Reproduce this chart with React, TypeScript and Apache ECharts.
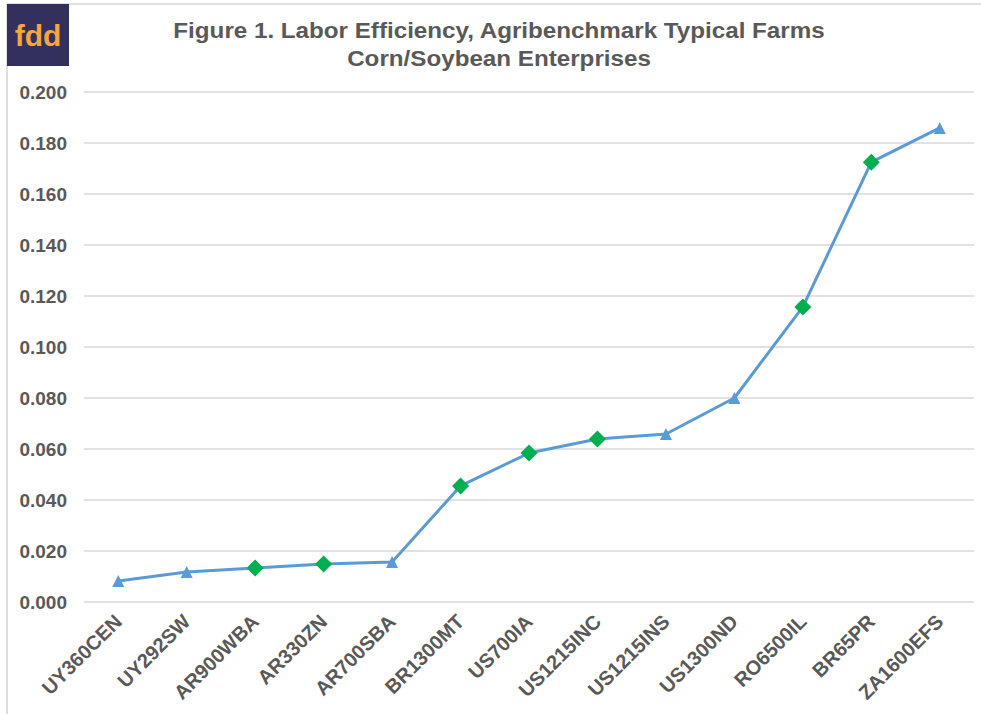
import React, { useEffect, useRef } from "react";
import * as echarts from "echarts";

const titleLines = [
  "Figure 1. Labor Efficiency, Agribenchmark Typical Farms",
  "Corn/Soybean Enterprises",
];
const farms = [
  "UY360CEN", "UY292SW", "AR900WBA", "AR330ZN", "AR700SBA", "BR1300MT", "US700IA",
  "US1215INC", "US1215INS", "US1300ND", "RO6500IL", "BR65PR", "ZA1600EFS",
];
const efficiency = [
  0.0082, 0.0118, 0.0133, 0.0149, 0.0157, 0.0455, 0.0584,
  0.0639, 0.0659, 0.080, 0.1157, 0.1725, 0.1859,
];
const diamondFarms = ["AR900WBA", "AR330ZN", "BR1300MT", "US700IA", "US1215INC", "RO6500IL", "BR65PR"];
const yMin = 0;
const yMax = 0.2;
const yStep = 0.02;

const FONT = "'Liberation Sans', Arial, sans-serif";

export default function App() {
  const ref = useRef<HTMLDivElement>(null);
  useEffect(() => {
    if (!ref.current) return;
    const chart = echarts.init(ref.current, undefined, { renderer: "svg" });
    const data = farms.map((f, i) => {
      const d = diamondFarms.includes(f);
      return {
        value: efficiency[i],
        symbol: d ? "diamond" : "triangle",
        symbolSize: d ? 17 : 12,
        itemStyle: { color: d ? "#00b050" : "#5b9bd5" },
      };
    });
    chart.setOption({
      animation: false,
      backgroundColor: "#ffffff",
      graphic: [
        {
          type: "rect",
          shape: { x: 7, y: 4, width: 990, height: 730 },
          style: { fill: "none", stroke: "#bfbfbf", lineWidth: 1 },
          silent: true,
        },
        {
          type: "rect",
          shape: { x: 7, y: 4, width: 62, height: 62 },
          style: { fill: "#33305e" },
          z: 10,
        },
        {
          type: "text",
          x: 38,
          y: 35,
          style: {
            text: "fdd",
            fill: "#f7a541",
            font: `bold 30px ${FONT}`,
            textAlign: "center",
            textVerticalAlign: "middle",
          },
          z: 11,
        },
        {
          type: "text",
          x: 499,
          y: 30,
          scaleX: 1.1,
          style: {
            text: titleLines[0],
            fill: "#595959",
            font: `bold 22px ${FONT}`,
            textAlign: "center",
            textVerticalAlign: "middle",
          },
        },
        {
          type: "text",
          x: 499,
          y: 58,
          scaleX: 1.1,
          style: {
            text: titleLines[1],
            fill: "#595959",
            font: `bold 22px ${FONT}`,
            textAlign: "center",
            textVerticalAlign: "middle",
          },
        },
      ],
      grid: { left: 84, right: 7, top: 92, bottom: 112, containLabel: false },
      xAxis: {
        type: "category",
        data: farms,
        boundaryGap: true,
        axisLine: { show: false },
        axisTick: { show: false },
        axisLabel: {
          rotate: 45,
          margin: 16,
          color: "#595959",
          fontFamily: FONT,
          fontWeight: "bold",
          fontSize: 20,
          interval: 0,
        },
      },
      yAxis: {
        type: "value",
        min: yMin,
        max: yMax,
        interval: yStep,
        axisLine: { show: false },
        axisTick: { show: false },
        splitLine: { lineStyle: { color: "#d9d9d9", width: 1.5 } },
        axisLabel: {
          margin: 17,
          color: "#595959",
          fontFamily: FONT,
          fontWeight: "bold",
          fontSize: 19,
          formatter: (v: number) => v.toFixed(3),
        },
      },
      series: [
        {
          type: "line",
          data,
          lineStyle: { color: "#5b9bd5", width: 3 },
          itemStyle: { color: "#5b9bd5" },
        },
      ],
    });
    return () => chart.dispose();
  }, []);
  return (
    <div
      ref={ref}
      style={{ position: "fixed", left: 0, top: 0, width: 981, height: 714 }}
    />
  );
}
